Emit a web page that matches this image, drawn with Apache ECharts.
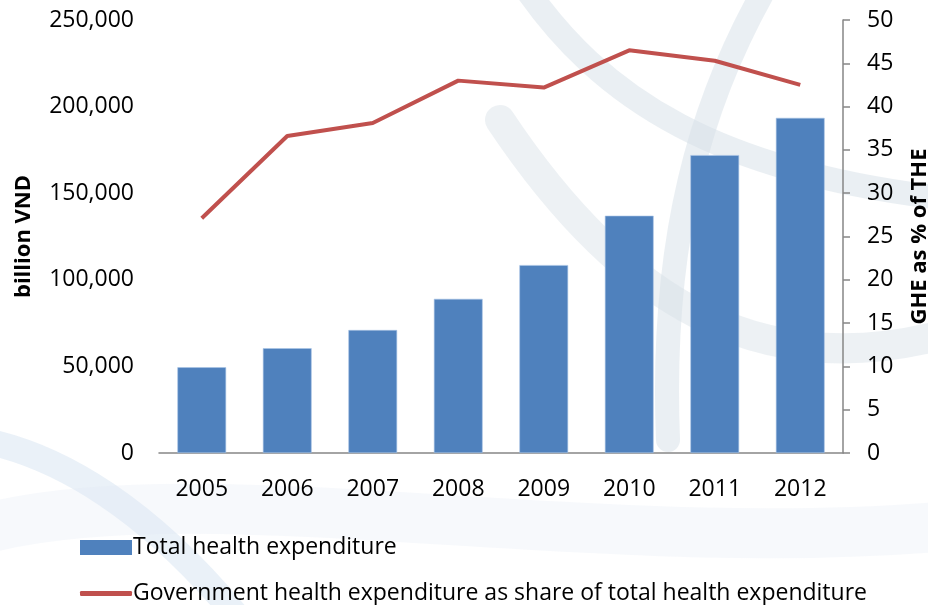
<!DOCTYPE html>
<html>
<head>
<meta charset="utf-8">
<script src="https://cdn.jsdelivr.net/npm/echarts@6/dist/echarts.min.js"></script>
<style>
html,body{margin:0;padding:0;background:#fff;}
#c{width:928px;height:605px;}
</style>
</head>
<body>
<div id="c"></div>
<script>
const years = ['2005','2006','2007','2008','2009','2010','2011','2012'];
const totalHealthExpenditure = [49500, 60500, 71000, 89000, 108500, 137000, 172000, 193500];
const gheShare = [27.1, 36.6, 38.1, 43.0, 42.2, 46.5, 45.3, 42.5];
const leftTicks = [0, 50000, 100000, 150000, 200000, 250000];
const rightTicks = [0, 5, 10, 15, 20, 25, 30, 35, 40, 45, 50];

const FONT = '"Open Sans", "Noto Sans", sans-serif';
const NAME_BAR = 'Total health expenditure';
const NAME_LINE = 'Government health expenditure as share of total health expenditure';
function swoosh(x1, y1, cpx1, cpy1, cpx2, cpy2, x2, y2, color, w) {
  return { type: 'bezierCurve', z: -10, silent: true,
    shape: { x1, y1, cpx1, cpy1, cpx2, cpy2, x2, y2 },
    style: { fill: null, stroke: color, lineWidth: w, lineCap: 'round' } };
}
const BAND = 'rgba(214,223,231,0.5)';
const chart = echarts.init(document.getElementById('c'));
chart.setOption({
  animation: false,
  backgroundColor: '#ffffff',
  graphic: [
    swoosh(520, -20, 600, 100, 720, 175, 960, 200, BAND, 24),
    swoosh(770, -20, 700, 100, 660, 240, 668, 440, BAND, 24),
    swoosh(500, 120, 620, 300, 760, 390, 960, 330, 'rgba(214,223,231,0.45)', 30),
    swoosh(-20, 440, 60, 455, 150, 510, 240, 620, 'rgba(170,200,226,0.25)', 26),
    swoosh(-20, 530, 200, 470, 600, 560, 960, 525, 'rgba(222,233,242,0.25)', 50)
  ],
  grid: { left: 159, right: 85, top: 20, bottom: 152, containLabel: false, outerBoundsMode: 'none' },
  legend: [
    {
      left: 75, top: 531,
      itemWidth: 52, itemHeight: 15, itemGap: 0,
      textStyle: { fontFamily: FONT, fontSize: 23, color: '#000', padding: [0,0,0,-4] },
      itemStyle: { color: '#4F81BD', borderWidth: 0 },
      data: [{ name: NAME_BAR, icon: 'rect' }]
    },
    {
      left: 75, top: 577,
      itemWidth: 52, itemHeight: 5, itemGap: 0,
      textStyle: { fontFamily: FONT, fontSize: 23, color: '#000', padding: [0,0,0,-4] },
      itemStyle: { color: '#C0504D', borderWidth: 0 },
      data: [{ name: NAME_LINE, icon: 'roundRect' }]
    }
  ],
  xAxis: {
    type: 'category',
    data: years,
    axisLine: { show: true, lineStyle: { color: '#868686', width: 1.5 } },
    axisTick: { show: false },
    axisLabel: { fontFamily: FONT, fontSize: 23, color: '#000', margin: 25 }
  },
  yAxis: [
    {
      type: 'value', min: 0, max: 250000, interval: 50000, position: 'left',
      name: 'billion VND', nameLocation: 'middle', nameRotate: 90, nameGap: 124,
      nameTextStyle: { fontFamily: FONT, fontSize: 22, fontWeight: 'bold', color: '#000' },
      axisLine: { show: false }, axisTick: { show: false }, splitLine: { show: false },
      axisLabel: { fontFamily: FONT, fontSize: 23, color: '#000', margin: 25,
        formatter: v => v.toLocaleString('en-US') }
    },
    {
      type: 'value', min: 0, max: 50, interval: 5, position: 'right',
      name: 'GHE as % of THE', nameLocation: 'middle', nameRotate: 90, nameGap: 66,
      nameTextStyle: { fontFamily: FONT, fontSize: 22, fontWeight: 'bold', color: '#000' },
      axisLine: { show: true, lineStyle: { color: '#868686', width: 1.5 } },
      axisTick: { show: true, length: 7, lineStyle: { color: '#868686', width: 1.5 } },
      splitLine: { show: false },
      axisLabel: { fontFamily: FONT, fontSize: 23, color: '#000', margin: 24 }
    }
  ],
  series: [
    {
      name: NAME_BAR, type: 'bar', yAxisIndex: 0,
      data: totalHealthExpenditure, barWidth: '57%',
      itemStyle: { color: '#4F81BD', borderColor: '#a9c4e6', borderWidth: 0.6 }
    },
    {
      name: NAME_LINE,
      type: 'line', yAxisIndex: 1, data: gheShare, symbol: 'none',
      lineStyle: { color: '#C0504D', width: 4 }, itemStyle: { color: '#C0504D' }
    }
  ]
});
</script>
</body>
</html>
